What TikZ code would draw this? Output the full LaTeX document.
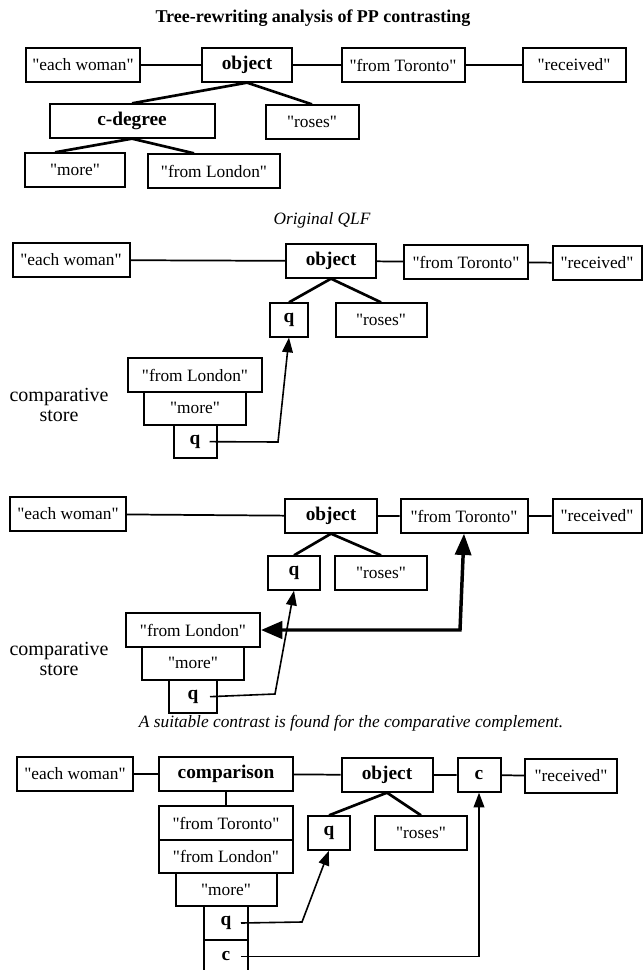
\documentclass[tikz,border=0pt]{standalone}
\usepackage{fontspec}
\setmainfont{Liberation Serif}[Ligatures=TeXOff]
\usetikzlibrary{chains,positioning,arrows.meta}

\begin{document}
\begin{tikzpicture}[x=0.75pt,y=-0.75pt]
    \tikzstyle{every path}=[line width=1.5pt]

    \edef\sizebox{25pt}
    \tikzstyle{box}=[draw,minimum height=\sizebox,inner sep=2pt,
                     font=\fontsize{13}{15}\selectfont]
    \tikzstyle{lbl}=[box,font=\fontsize{14.5}{16}\selectfont\bfseries]
    \tikzstyle{wd}=[minimum width=#1*0.75pt]
    \tikzstyle{link}=[line width=1.3pt]
    \tikzstyle{branch}=[line width=2pt]
    \tikzstyle{ptr}=[line width=1.2pt,-{Triangle[length=11pt,width=8pt]}]
    \tikzstyle{bigptr}=[line width=2.6pt,
                        {Triangle[length=16pt,width=13pt]}-{Triangle[length=16pt,width=12pt]}]
    \tikzstyle{remark}=[font=\fontsize{13}{15}\selectfont\itshape]
    \tikzstyle{storelbl}=[align=center,font=\fontsize{15}{15}\selectfont]

    \useasboundingbox (0,0) rectangle (643,970);

    % Tree-rewriting analysis
    \node[font=\fontsize{13.5}{15}\selectfont\bfseries] (title) at (313,18)
        {Tree-rewriting analysis of PP contrasting};
    \node[box,wd=114] (ew1) at (83,65) {"each woman"};
    \node[lbl,wd=90] (obj1) at (247,65) {object};
    \node[box,wd=123] (tor1) at (403,65) {"from Toronto"};
    \node[box,wd=103] (rec1) at (574,65) {"received"};
    \node[lbl,wd=165] (cdeg) at (132,121) {c-degree};
    \node[box,wd=93] (ros1) at (312,122) {"roses"};
    \node[box,wd=100] (more1) at (75,170) {"more"};
    \node[box,wd=132] (lon1) at (214,171) {"from London"};
    \draw[link] (ew1) -- (obj1) -- (tor1) -- (rec1);
    \draw[branch] (cdeg.north) -- (obj1.south) -- (ros1.north);
    \draw[branch] ([xshift=-15pt]more1.north) -- (cdeg.south) -- ([xshift=-15pt]lon1.north);

    % Original QLF
    \node[remark] (cap2) at (322,220) {Original QLF};
    \node[box,wd=117] (ew2) at (71,260) {"each woman"};
    \node[lbl,wd=90] (obj2) at (331,261) {object};
    \node[box,wd=124] (tor2) at (466,262) {"from Toronto"};
    \node[box,wd=89] (rec2) at (597,263) {"received"};
    \node[lbl,wd=38] (q2) at (289,320) {q};
    \node[box,wd=91] (ros2) at (381,320) {"roses"};
    \draw[link] (ew2) -- (obj2) -- (tor2) -- (rec2);
    \draw[branch] (q2.north) -- (obj2.south) -- (ros2.north);
    \begin{scope}[start chain=store2 going below,node distance=-1.5pt]
        \node[on chain=store2,box,wd=134] (lon2) at (195,375) {"from London"};
        \node[on chain=store2,box,wd=102] (more2) {"more"};
        \node[on chain=store2,lbl,wd=43] (qs2) {q};
    \end{scope}
    \node[storelbl] (st2) at (59,405) {comparative\\store};
    \coordinate (bend2) at (278,442);
    \draw[ptr] ([xshift=-6pt]qs2.east) -- (bend2) -- (q2.south);

    % Contrast found
    \node[box,wd=116] (ew3) at (68,514) {"each woman"};
    \node[lbl,wd=92] (obj3) at (331,516) {object};
    \node[box,wd=127] (tor3) at (464,516) {"from Toronto"};
    \node[box,wd=89] (rec3) at (597,516) {"received"};
    \node[lbl,wd=52] (q3) at (294,573) {q};
    \node[box,wd=92] (ros3) at (381,573) {"roses"};
    \draw[link] (ew3) -- (obj3) -- (tor3) -- (rec3);
    \draw[branch] (q3.north) -- (obj3.south) -- (ros3.north);
    \begin{scope}[start chain=store3 going below,node distance=-1.5pt]
        \node[on chain=store3,box,wd=134] (lon3) at (193,630) {"from London"};
        \node[on chain=store3,box,wd=102] (more3) {"more"};
        \node[on chain=store3,lbl,wd=48] (qs3) {q};
    \end{scope}
    \node[storelbl] (st3) at (59,659) {comparative\\store};
    \coordinate (bend3) at (275,694);
    \coordinate (bendT) at (460,630);
    \draw[bigptr] (lon3.east) -- (bendT) -- (tor3.south);
    \draw[ptr] ([xshift=-6pt]qs3.east) -- (bend3) -- (q3.south);

    % Comparison built
    \node[remark] (cap4) at (351,723)
        {A suitable contrast is found for the comparative complement.};
    \node[box,wd=116] (ew4) at (75,774) {"each woman"};
    \node[lbl,wd=134] (cmp) at (226,774) {comparison};
    \node[lbl,wd=91] (obj4) at (387,775) {object};
    \node[lbl,wd=43] (c4) at (479,775) {c};
    \node[box,wd=92] (rec4) at (571,776) {"received"};
    \node[lbl,wd=42] (q4) at (329,833) {q};
    \node[box,wd=92] (ros4) at (421,833) {"roses"};
    \draw[link] (ew4) -- (cmp) -- (obj4) -- (c4) -- (rec4);
    \draw[branch] (q4.north) -- (obj4.south) -- (ros4.north);
    \begin{scope}[start chain=store4 going below,node distance=-1.5pt]
        \node[on chain=store4,box,wd=134] (tor4) at (226,823) {"from Toronto"};
        \node[on chain=store4,box,wd=134] (lon4) {"from London"};
        \node[on chain=store4,box,wd=101] (more4) {"more"};
        \node[on chain=store4,lbl,wd=44] (qs4) {q};
        \node[on chain=store4,lbl,wd=44] (cs4) {c};
    \end{scope}
    \draw[link] (cmp) -- (tor4);
    \coordinate (bend4) at (302,922);
    \draw[ptr] ([xshift=-6pt]qs4.east) -- (bend4) -- (q4.south);
    \draw[ptr] ([xshift=-6pt]cs4.east) -| (c4.south);
\end{tikzpicture}
\end{document}
